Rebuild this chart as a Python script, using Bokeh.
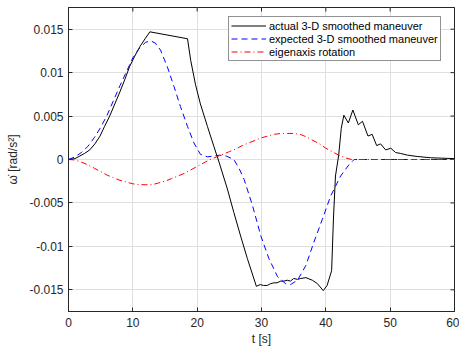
import math
from bokeh.plotting import figure
from bokeh.models import FixedTicker, Range1d, Legend, LegendItem
from bokeh.embed import file_html
from bokeh.resources import INLINE

# ---- data ----
t_actual = [0, 1, 1.76, 2.5, 3.3, 4.1, 4.9, 5.6, 6.4, 7.2, 8.0, 8.8, 9.5, 10.3, 11.1, 11.9, 12.65,
            18.5, 19.0, 19.75, 20.5, 21.6, 22.6, 23.4, 24.7, 25.7, 26.75, 27.8, 29.2, 29.8, 30.3,
            30.9, 31.4, 31.9, 32.4, 33.0, 33.5, 34.0, 34.5, 35.0, 35.6, 36.1, 36.9, 37.9, 38.7,
            39.6, 40.2, 40.9, 41.2, 41.5, 42.0, 42.4, 42.8, 43.5, 44.2, 45.05, 45.7, 46.55, 47.2,
            47.9, 48.5, 49.3, 50.1, 50.85, 51.6, 52.7, 54.2, 56.3, 60]
w_actual = [0, 0.0001, 0.0004, 0.0007, 0.0011, 0.0018, 0.0027, 0.0038, 0.0050, 0.0064, 0.0078,
            0.0093, 0.0107, 0.0119, 0.0130, 0.0139, 0.0147,
            0.0139, 0.0114, 0.0086, 0.0064, 0.0038, 0.0015, -0.0003, -0.0034, -0.0061, -0.0088,
            -0.0114, -0.0146, -0.0144, -0.0145, -0.0145, -0.0143, -0.0142, -0.0142, -0.0140,
            -0.0140, -0.0139, -0.0140, -0.0137, -0.0138, -0.0137, -0.0136, -0.0139, -0.0143,
            -0.0151, -0.0145, -0.0128, -0.0065, -0.0019, 0.0005, 0.0036, 0.0051, 0.0042, 0.0057,
            0.0040, 0.0044, 0.0027, 0.0029, 0.0016, 0.0018, 0.0011, 0.0013, 0.0008, 0.0007,
            0.0005, 0.00035, 0.0002, 0.0001]

t_expected = [0, 1, 2, 3, 4, 5, 6, 7, 8, 9, 10, 11, 12, 12.8, 13.5, 14.3, 15.35, 16.4, 17.4,
              18.5, 19.5, 20.5, 21.6, 22.5, 23.5, 24.5, 25.7, 26.5, 27.3, 28.6, 29.9, 31.15,
              32.5, 33.75, 34.5, 35.6, 36.9, 38.15, 39.45, 40.75, 42.3, 43.6, 44.4, 60]
w_expected = [0, 0.0003, 0.0008, 0.0015, 0.0025, 0.0037, 0.0051, 0.0068, 0.0085, 0.0101,
              0.0117, 0.0128, 0.0135, 0.01365, 0.0134, 0.0126, 0.0107, 0.0084, 0.0061, 0.0038,
              0.0019, 0.0006, 0.0003, 0.0004, 0.0005, 0.0004, 0.0, -0.0010, -0.0023, -0.0053,
              -0.0088, -0.0114, -0.0135, -0.0143, -0.0144, -0.0139, -0.0122, -0.0095, -0.0069,
              -0.0042, -0.0019, -0.0006, 0.0, 0.0]

t_eigen = [0, 1, 2, 3, 4, 5, 6, 7, 8, 9, 10, 11, 12, 13, 14, 15, 16, 17, 18, 19, 20, 21, 22,
           23, 24, 25, 26, 27, 28, 29, 30, 31, 32, 33, 34, 35, 36, 37, 38, 39, 40, 41, 42, 43,
           44, 60]
w_eigen = [0, -0.00005, -0.0003, -0.0006, -0.0010, -0.0014, -0.0018, -0.0021, -0.0024, -0.0026,
           -0.0028, -0.0029, -0.0029, -0.0029, -0.0027, -0.0025, -0.0022, -0.0019, -0.0016,
           -0.0012, -0.0008, -0.0004, 0.0, 0.0003, 0.0006, 0.0009, 0.0012, 0.0016, 0.0019,
           0.0022, 0.0025, 0.0027, 0.0029, 0.0030, 0.0030, 0.0030, 0.0029, 0.0026, 0.0022,
           0.0018, 0.0013, 0.0009, 0.0005, 0.0002, 0.0, 0.0]

x_ticks = [0, 10, 20, 30, 40, 50, 60]
y_ticks = [-0.015, -0.01, -0.005, 0, 0.005, 0.01, 0.015]
y_tick_labels = ["-0.015", "-0.01", "-0.005", "0", "0.005", "0.01", "0.015"]
legend_labels = ["actual 3-D smoothed maneuver", "expected 3-D smoothed maneuver",
                 "eigenaxis rotation"]
x_lim = (0, 60)
y_lim = (-0.0175, 0.0175)

FONT = "Liberation Sans"
AX = "#262626"

p = figure(width=459, height=348, x_range=Range1d(*x_lim), y_range=Range1d(*y_lim),
           output_backend="svg", toolbar_location=None,
           min_border_left=68, min_border_right=5, min_border_top=7, min_border_bottom=36)
p.background_fill_color = "white"
p.border_fill_color = "white"
p.outline_line_color = AX
p.outline_line_width = 1

for ax in (p.xaxis[0], p.yaxis[0]):
    ax.major_tick_in = 4
    ax.major_tick_out = 0
    ax.minor_tick_line_color = None
    ax.axis_line_color = AX
    ax.major_tick_line_color = AX
    ax.major_label_text_font = FONT
    ax.major_label_text_font_size = "12px"
    ax.major_label_text_color = AX
    ax.axis_label_text_font = FONT
    ax.axis_label_text_font_size = "12px"
    ax.axis_label_text_font_style = "normal"
    ax.axis_label_text_color = AX

p.xaxis.ticker = FixedTicker(ticks=x_ticks)
p.yaxis.ticker = FixedTicker(ticks=y_ticks)
p.yaxis.major_label_overrides = {v: s for v, s in zip(y_ticks, y_tick_labels)}
p.xaxis.major_label_standoff = 6
p.yaxis.major_label_standoff = 5
p.xaxis.axis_label = "t [s]"
p.xaxis.axis_label_standoff = 2
p.yaxis.axis_label = "\u03c9\u0307 [rad/s\u00b2]"
p.yaxis.axis_label_standoff = 6

p.xgrid.ticker = FixedTicker(ticks=x_ticks)
p.ygrid.ticker = FixedTicker(ticks=y_ticks)
p.grid.grid_line_color = "#dfdfdf"
p.grid.grid_line_width = 1

# inward ticks on the top and right edges of the box (markers are clipped to the frame)
p.scatter(x_ticks, [y_lim[1]] * len(x_ticks), marker="dash", angle=math.pi / 2, size=8,
          line_color=AX, line_width=1)
p.scatter([x_lim[1]] * len(y_ticks), y_ticks, marker="dash", size=8,
          line_color=AX, line_width=1)

r1 = p.line(t_actual, w_actual, line_color="black", line_width=1)
r2 = p.line(t_expected, w_expected, line_color="#0000ff", line_width=1, line_dash="6 4")
r3 = p.line(t_eigen, w_eigen, line_color="#ff0000", line_width=1, line_dash="6 3 1 3")

legend = Legend(items=[LegendItem(label=legend_labels[0], renderers=[r1]),
                       LegendItem(label=legend_labels[1], renderers=[r2]),
                       LegendItem(label=legend_labels[2], renderers=[r3])],
                location=(160, 250))
legend.border_line_color = AX
legend.border_line_width = 1
legend.background_fill_color = "white"
legend.background_fill_alpha = 1
legend.label_text_font = FONT
legend.label_text_font_size = "11px"
legend.label_text_color = "black"
legend.label_text_line_height = 1.0
legend.glyph_width = 35
legend.glyph_height = 13
legend.label_height = 13
legend.label_standoff = 3
legend.spacing = 0
legend.padding = 2
legend.margin = 0
p.add_layout(legend)

open("out.html", "w").write(file_html(p, INLINE))
